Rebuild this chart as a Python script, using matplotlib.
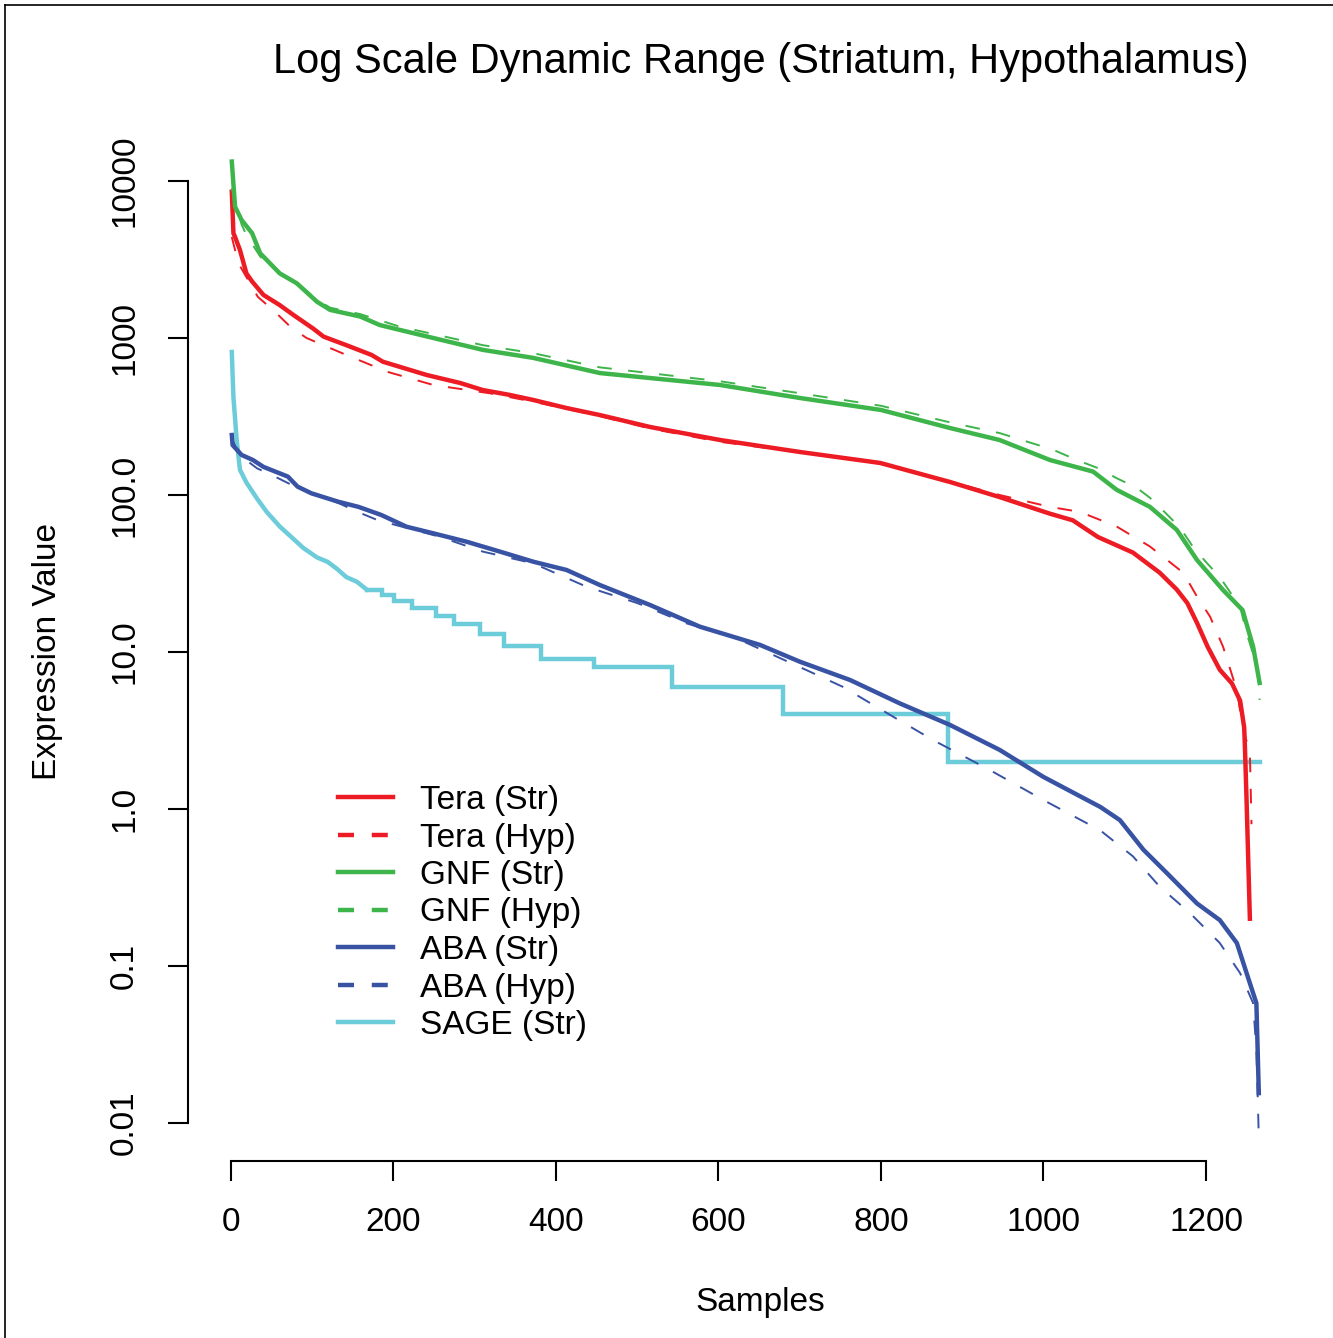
import matplotlib
matplotlib.use("Agg")
import matplotlib.pyplot as plt
from matplotlib.lines import Line2D

plt.rcParams['font.family'] = ['Liberation Sans', 'DejaVu Sans']

# ---- data: sorted expression values per platform / region ----
tera_str_rank = [1, 3, 5, 11, 19, 26, 40, 60, 77, 101, 114, 142, 173, 187, 241, 282, 310, 343,
                 372, 413, 454, 516, 602, 700, 799, 885, 946, 1008, 1036, 1067, 1110, 1143,
                 1164, 1177, 1189, 1202, 1217, 1232, 1242, 1247, 1248, 1250, 1254]
tera_str_value = [8550, 4650, 4400, 3640, 2580, 2290, 1880, 1620, 1400, 1150, 1020, 900, 780,
                  706, 581, 517, 466, 434, 403, 358, 323, 271, 224, 188, 160, 121, 97, 76, 69,
                  54, 43, 32, 25, 20.5, 15.3, 10.8, 7.7, 6.3, 4.9, 3.3, 2.4, 1.1, 0.2]

tera_hyp_rank = [1, 9, 33, 54, 73, 93, 118, 142, 167, 192, 249, 319, 372, 454, 516, 602, 700,
                 800, 885, 946, 1008, 1045, 1090, 1131, 1172, 1189, 1205, 1221, 1230, 1238,
                 1245, 1254, 1256]
tera_hyp_value = [4400, 3000, 1830, 1470, 1180, 1000, 880, 780, 690, 610, 502, 444, 393, 318,
                  265, 218, 187, 158, 122, 100, 84, 78, 63, 47, 32, 22.5, 16.8, 10.8, 7.7, 5.7,
                  3.35, 2.27, 0.8]

gnf_str_rank = [1, 5, 13, 26, 36, 60, 81, 106, 122, 159, 183, 208, 249, 310, 372, 454, 602,
                700, 800, 885, 946, 1008, 1061, 1090, 1131, 1164, 1189, 1221, 1245, 1258, 1266]
gnf_str_value = [13300, 6860, 5650, 4650, 3460, 2580, 2230, 1700, 1510, 1370, 1210, 1125, 1000,
                 840, 747, 598, 502, 415, 348, 267, 224, 167, 141, 108, 84, 60, 38.5, 24.8,
                 18.5, 10.8, 6.35]

gnf_hyp_rank = [1, 13, 19, 36, 60, 81, 106, 122, 159, 208, 249, 310, 372, 454, 602, 700, 800,
                885, 946, 1012, 1041, 1066, 1090, 1115, 1131, 1150, 1168, 1184, 1201, 1217,
                1242, 1250, 1263, 1266]
gnf_hyp_value = [9000, 5300, 4530, 3300, 2600, 2250, 1750, 1560, 1420, 1180, 1060, 900, 800,
                 650, 530, 445, 370, 290, 248, 194, 167, 149, 128, 111, 96, 77, 62, 46.7, 36.9,
                 30, 19.4, 13.2, 8, 4.95]

aba_str_rank = [1, 2, 13, 27, 40, 70, 82, 99, 132, 157, 185, 216, 249, 290, 331, 372, 413, 454,
                516, 577, 651, 700, 762, 823, 885, 946, 1000, 1070, 1094, 1123, 1152, 1189,
                1217, 1238, 1250, 1262, 1265]
aba_str_value = [241, 208, 180, 167, 151, 131, 113, 102.5, 90.6, 84, 74.6, 62.8, 57, 50.4, 43.6,
                 37.6, 33.3, 26.7, 19.9, 14.5, 11.1, 8.68, 6.63, 4.71, 3.43, 2.38, 1.6, 1.03,
                 0.85, 0.55, 0.39, 0.25, 0.196, 0.14, 0.09, 0.058, 0.0155]

aba_hyp_rank = [1, 10, 32, 58, 79, 132, 156, 181, 257, 310, 372, 438, 500, 561, 618, 708, 753,
                815, 864, 934, 1000, 1070, 1110, 1143, 1180, 1217, 1242, 1258, 1262, 1265]
aba_hyp_value = [230, 180, 148, 128, 113, 89, 78, 69, 54.2, 43.6, 36.7, 26, 20.5, 15.2, 12.5,
                 7.68, 6.0, 3.87, 2.75, 1.77, 1.14, 0.73, 0.50, 0.32, 0.218, 0.14, 0.09, 0.058,
                 0.029, 0.0081]

# SAGE tag counts: a smooth head followed by integer-count plateaus
sage_head_rank = [1, 3, 7, 11, 19, 32, 44, 60, 76, 89, 106, 119, 130, 142, 155, 167]
sage_head_value = [815, 420, 225, 145, 120, 95, 78, 63, 53, 46, 40, 37.5, 34, 30, 28, 25]
sage_step_rank = [167, 186, 201, 223, 252, 275, 307, 336, 381, 447, 543, 679, 883, 1266]
sage_step_value = [25, 23, 21, 19, 17, 15, 13, 11, 9, 8, 6, 4, 2, 2]

x_ticks = [0, 200, 400, 600, 800, 1000, 1200]
y_ticks = [0.01, 0.1, 1, 10, 100, 1000, 10000]
y_tick_labels = ["0.01", "0.1", "1.0", "10.0", "100.0", "1000", "10000"]
legend_labels = ["Tera (Str)", "Tera (Hyp)", "GNF (Str)", "GNF (Hyp)",
                 "ABA (Str)", "ABA (Hyp)", "SAGE (Str)"]

RED = "#ED1C24"
GREEN = "#3DB54A"
BLUE = "#3953A4"
CYAN = "#6DCCDA"

W, H = 1333, 1338
fig = plt.figure(figsize=(W / 100, H / 100), dpi=100)
ax = fig.add_axes([188 / W, 1 - 1161 / H, (W - 188) / W, (1161 - 143) / H])

solid_lw = 3.2
dash_lw = 1.4
dash_pat = (7.5, 8.5)
font_sz = 24

ax.plot(sage_head_rank, sage_head_value, color=CYAN, lw=solid_lw)
ax.plot(sage_step_rank, sage_step_value, color=CYAN, lw=solid_lw, drawstyle="steps-post",
        solid_joinstyle="miter")
ax.plot(tera_str_rank, tera_str_value, color=RED, lw=solid_lw)
ax.plot(tera_hyp_rank, tera_hyp_value, color=RED, lw=dash_lw, dashes=dash_pat)
ax.plot(gnf_str_rank, gnf_str_value, color=GREEN, lw=solid_lw)
ax.plot(gnf_hyp_rank, gnf_hyp_value, color=GREEN, lw=dash_lw, dashes=dash_pat)
ax.plot(aba_str_rank, aba_str_value, color=BLUE, lw=solid_lw)
ax.plot(aba_hyp_rank, aba_hyp_value, color=BLUE, lw=dash_lw, dashes=dash_pat)

ax.set_yscale("log")
ax.set_xlim(-52.9, 1356.3)
ax.set_ylim(10 ** -2.242, 10 ** 4.242)

for side in ("top", "right"):
    ax.spines[side].set_visible(False)
ax.spines["left"].set_bounds(0.01, 10000)
ax.spines["bottom"].set_bounds(0, 1200)
for side in ("left", "bottom"):
    ax.spines[side].set_linewidth(1.5)

ax.set_xticks(x_ticks)
ax.set_xticklabels([str(t) for t in x_ticks])
ax.set_yticks(y_ticks)
ax.set_yticklabels(y_tick_labels, rotation=90, va="center")
ax.yaxis.set_minor_locator(matplotlib.ticker.NullLocator())
ax.tick_params(axis="both", direction="out", length=14.4, width=1.5, labelsize=font_sz)
ax.tick_params(axis="x", pad=19)
ax.tick_params(axis="y", pad=20)

fig.text(761 / W, 1 - 62 / H, "Log Scale Dynamic Range (Striatum, Hypothalamus)",
         ha="center", va="center", fontsize=30)
fig.text(760 / W, 1 - 1302 / H, "Samples", ha="center", va="center", fontsize=font_sz)
fig.text(48 / W, 1 - 652 / H, "Expression Value", ha="center", va="center",
         rotation=90, fontsize=font_sz)

styles = [(RED, "-"), (RED, "--"), (GREEN, "-"), (GREEN, "--"),
          (BLUE, "-"), (BLUE, "--"), (CYAN, "-")]
handles = []
for color, ls in styles:
    if ls == "-":
        handles.append(Line2D([], [], color=color, lw=solid_lw))
    else:
        handles.append(Line2D([], [], color=color, lw=solid_lw, dashes=(3.6, 4.0)))
fig.legend(handles, legend_labels, loc="upper left",
           bbox_to_anchor=(338 / W, 1 - 785 / H), frameon=False, fontsize=font_sz,
           borderpad=0, borderaxespad=0, handlelength=1.65, handletextpad=0.8,
           labelspacing=0.195)

# thin frame lines along the top and left edges of the figure
fig.add_artist(Line2D([5 / W, 1], [1 - 5 / H, 1 - 5 / H], color="black", lw=1.2,
                      transform=fig.transFigure))
fig.add_artist(Line2D([5 / W, 5 / W], [0, 1 - 5 / H], color="black", lw=1.2,
                      transform=fig.transFigure))

fig.savefig("out.png", dpi=100)
